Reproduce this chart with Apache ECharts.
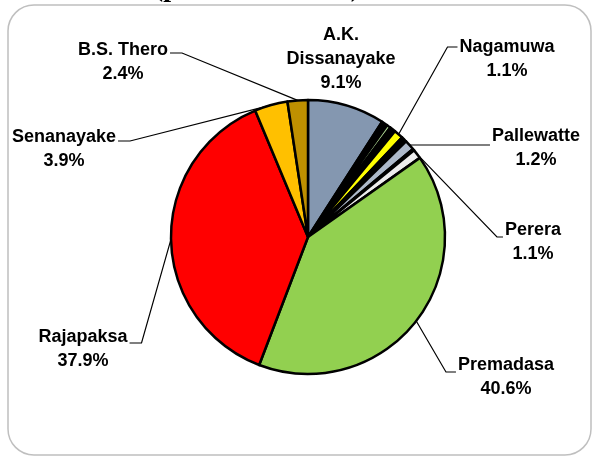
<!DOCTYPE html>
<html><head><meta charset="utf-8">
<script src="https://cdn.jsdelivr.net/npm/echarts@6/dist/echarts.min.js"></script>
<style>html,body{margin:0;padding:0;background:#fff}#c{width:592px;height:457px}</style>
</head><body><div id="c"></div>
<script>
// ---- data ----
const candidates = ['A.K.\nDissanayake','Other 1','Other 2','Other 3','Nagamuwa','Other 4','Other 5','Pallewatte','Other 6','Perera','Premadasa','Rajapaksa','Senanayake','B.S. Thero'];
const shares = [9.1, 0.7, 0.45, 0.7, 1.1, 0.35, 0.3, 1.2, 0.2, 1.1, 40.6, 37.9, 3.9, 2.4];
const labelled = [true,false,false,false,true,false,false,true,false,true,true,true,true,true];
const colors = ['#8497B0','#000000','#A9D18E','#000000','#FFFF00','#000000','#00A0E0','#ADB9CA','#000000','#EDEDED','#92D050','#FF0000','#FFC000','#BF9000'];
const titleText = '(percent of votes)';

// ---- label placement (layout only) ----
const LH = 24;
const FSIZE = 18;
const FONT = '"Liberation Sans", Arial, sans-serif';
const labelPlace = {
  'A.K.\nDissanayake': {cx:341, y1:35},
  'Nagamuwa':   {cx:507, y1:47,  side:'right', ly:47,  seg:10},
  'Pallewatte': {cx:536, y1:136, side:'right', ly:145, seg:0},
  'Perera':     {cx:533, y1:230, side:'right', ly:237, seg:6},
  'Premadasa':  {cx:506, y1:365, side:'right', ly:372, seg:10},
  'Rajapaksa':  {cx:83,  y1:337, side:'left',  ly:343, seg:12},
  'Senanayake': {cx:64,  y1:137, side:'left',  ly:141, seg:12},
  'B.S. Thero': {cx:123, y1:50,  side:'left',  ly:53,  seg:12}
};

const ctx = document.createElement('canvas').getContext('2d');
ctx.font = 'bold ' + FSIZE + 'px ' + FONT;
function textW(s){ return Math.max.apply(null, s.split('\n').map(t => ctx.measureText(t).width)); }

const chart = echarts.init(document.getElementById('c'), null, {renderer:'canvas'});
const data = candidates.map((n,i) => ({
  name: n, value: shares[i],
  itemStyle: {color: colors[i]},
  label: {show: labelled[i]},
  labelLine: {show: labelled[i] && i !== 0}
}));

chart.setOption({
  animation: false,
  backgroundColor: '#fff',
  graphic: [
    {type:'rect', z:-10, shape:{x:8, y:5, width:583, height:450, r:26}, style:{fill:'#fff', stroke:'#BFBFBF', lineWidth:1.5}},
    {type:'text', z:-5, x:257, y:-11, style:{text:titleText, fill:'#000', font:'bold 28px "Liberation Serif", serif', align:'center', verticalAlign:'middle'}}
  ],
  series: [{
    type: 'pie',
    center: [308, 237],
    radius: 137,
    startAngle: 90,
    clockwise: true,
    avoidLabelOverlap: false,
    data: data,
    itemStyle: {borderColor:'#000', borderWidth:2.5},
    emphasis: {disabled: true},
    label: {
      color:'#000', fontSize:FSIZE, fontWeight:'bold', fontFamily: FONT, lineHeight: LH,
      formatter: p => p.name + '\n' + p.value.toFixed(1) + '%'
    },
    labelLine: {lineStyle:{color:'#000', width:1.2}, length: 10, length2: 10},
    labelLayout: function (params) {
      const name = candidates[params.dataIndex];
      const pl = labelPlace[name];
      if (!pl) return {};
      const txt = name + '\n' + shares[params.dataIndex].toFixed(1) + '%';
      const nLines = txt.split('\n').length;
      const out = {x: pl.cx, y: pl.y1 - LH/2 + nLines*LH/2, align:'center', verticalAlign:'middle'};
      if (pl.side && params.labelLinePoints) {
        const w = textW(txt);
        const p0 = params.labelLinePoints[0];
        let edge, elbow;
        if (pl.side === 'right') { edge = pl.cx - w/2 - 2; elbow = edge - pl.seg; }
        else { edge = pl.cx + w/2 + 2; elbow = edge + pl.seg; }
        const mid = pl.seg === 0 ? [(p0[0]+edge)/2, pl.ly] : [elbow, pl.ly];
        const start = pl.seg === 0 ? [p0[0], pl.ly] : p0;
        out.labelLinePoints = [start, mid, [edge, pl.ly]];
      }
      return out;
    }
  }]
});
</script>
</body></html>
